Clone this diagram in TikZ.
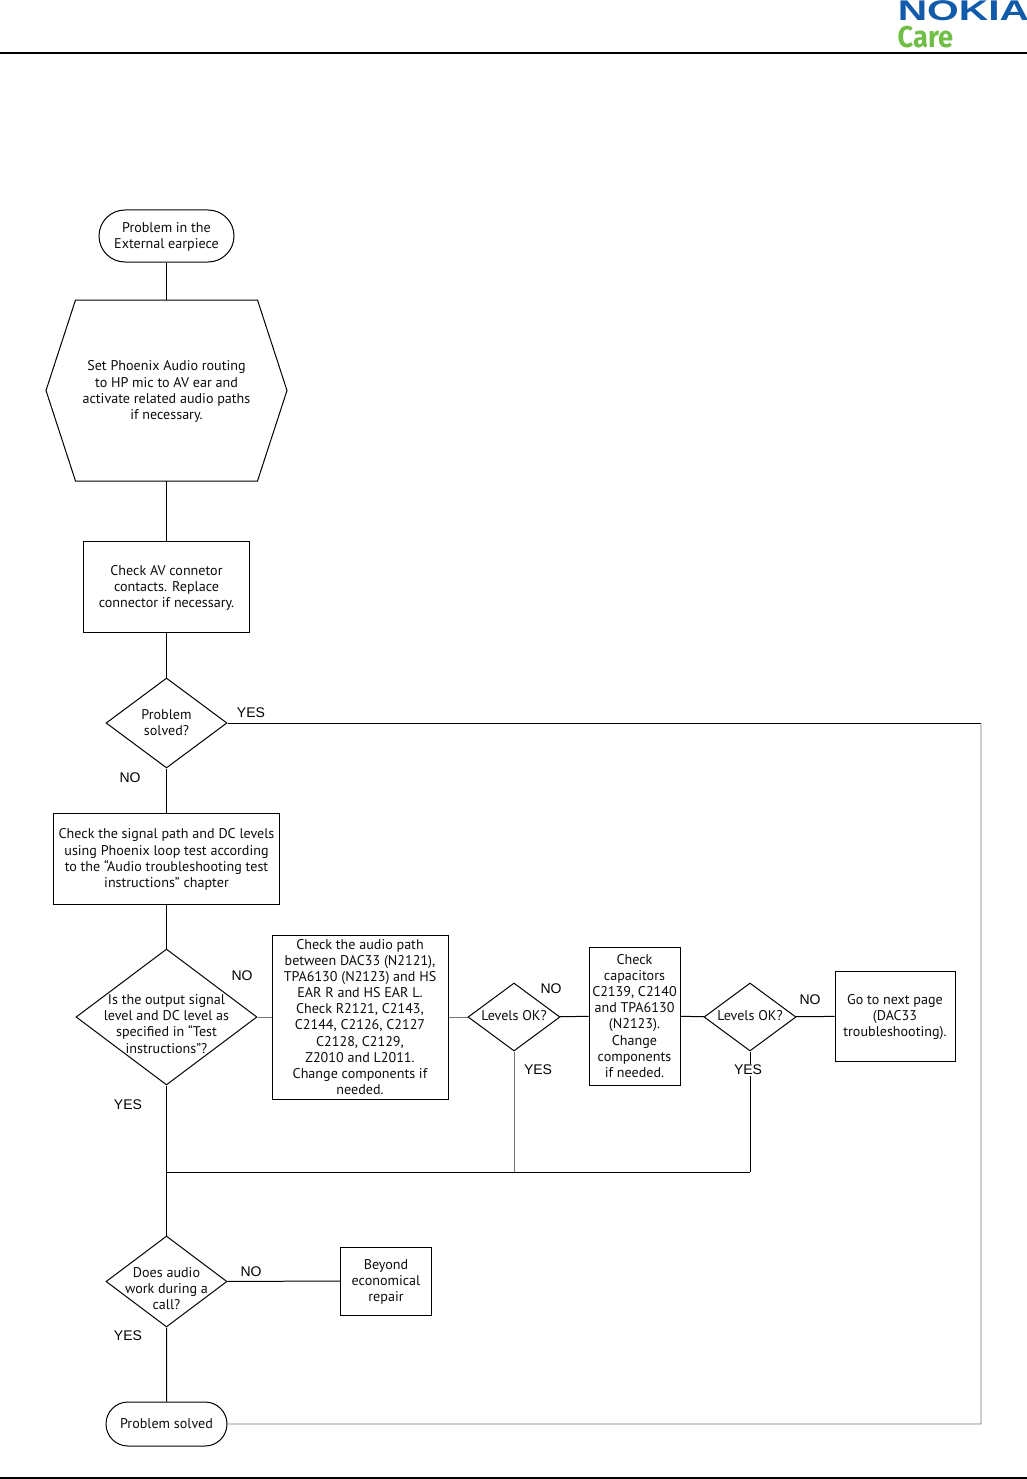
\documentclass[tikz,border=0pt]{standalone}
\usepackage{fontspec}
\setmainfont{PT Sans}
\newfontfamily\labelfont{Liberation Sans}
\newfontfamily\logofont{Liberation Sans}[BoldFont={Liberation Sans Bold}]
\newfontfamily\carefont{Fira Sans}[BoldFont={Fira Sans Bold}]
\usetikzlibrary{shapes.geometric,shapes.misc}
\definecolor{nokiablue}{RGB}{18,90,170}
\definecolor{caregreen}{RGB}{112,190,70}
\tikzset{
  x=1pt,y=-1pt,
  txt/.style={font=\fontsize{14.1}{16.1}\selectfont,align=center,text=black!95,inner sep=0pt},
  boxn/.style={draw,line width=1pt,inner sep=0pt,txt},
  pill/.style={draw,line width=1pt,rounded rectangle,inner sep=0pt,txt},
  dia/.style={draw,line width=1pt,diamond,inner sep=0pt,shape aspect=1},
  yn/.style={font=\labelfont\fontsize{14}{16}\selectfont,inner sep=1pt},
  conn/.style={line width=1pt},
  thinconn/.style={line width=0.7pt,black!55},
}
\newcommand{\dnode}[7]{\node[dia,minimum width=#4,minimum height=#5,label={[txt,yshift=#7]center:{#6}}] (#1) at (#2,#3) {};}
\begin{document}
\begin{tikzpicture}
\useasboundingbox (0,0) rectangle (1027,1479);
% header / footer
\coordinate (hl) at (0,53); \coordinate (hr) at (1027,53);
\coordinate (fl) at (0,1478); \coordinate (fr) at (1027,1478);
\draw[line width=1.8pt] (hl) -- (hr);
\draw[line width=1.8pt] (fl) -- (fr);
\node[anchor=base west,inner sep=0pt,text=nokiablue,xscale=1.43,font=\logofont\bfseries\fontsize{28.5}{30}\selectfont] (nokia) at (897.5,20.5) {NOKIA};
\node[anchor=base west,inner sep=0pt,text=caregreen,xscale=0.91,font=\carefont\bfseries\fontsize{30}{30}\selectfont] (care) at (897.5,48) {Care};
% nodes
\node[pill,minimum width=135,minimum height=52,label={[txt,yshift=-1pt]center:{Problem in the\\External earpiece}}] (start) at (166.5,236) {};
\node[txt,minimum width=182,minimum height=181,outer sep=0pt,yshift=-1pt] (hextext) at (166.5,390.5) {Set Phoenix Audio routing\\to HP mic to AV ear and\\activate related audio paths\\if necessary.};
\node[minimum width=182,minimum height=181,outer sep=0pt,inner sep=0pt] (hex) at (166.5,390.5) {};
\coordinate (hexw) at (46,390.5); \coordinate (hexe) at (287,390.5);
\draw[line width=1pt] (hex.north west) -- (hex.north east) -- (hexe) -- (hex.south east) -- (hex.south west) -- (hexw) -- cycle;
\node[boxn,minimum width=166,minimum height=91,label={[txt,yshift=-1pt]center:{Check AV connetor\\contacts. Replace\\connector if necessary.}}] (b1) at (166.5,587) {};
\dnode{d1}{166.5}{723}{121}{90}{Problem\\solved?}{0pt}
\node[boxn,minimum width=226,minimum height=91,label={[txt,yshift=-1pt]center:{Check the signal path and DC levels\\using Phoenix loop test according\\to the “Audio troubleshooting test\\instructions” chapter}}] (b2) at (166.5,858.5) {};
\dnode{d2}{166.5}{1017}{181}{136}{Is the output signal\\level and DC level as\\specified in “Test\\instructions”?}{-7pt}
\node[boxn,minimum width=176,minimum height=164] (b3) at (360,1017) {Check the audio path\\between DAC33 (N2121),\\TPA6130 (N2123) and HS\\EAR R and HS EAR L.\\Check R2121, C2143,\\C2144, C2126, C2127\\C2128, C2129,\\Z2010 and L2011.\\Change components if\\needed.};
\dnode{d3}{514}{1017}{92}{68}{Levels OK?}{1pt}
\node[boxn,minimum width=91,minimum height=138] (b4) at (634.5,1016) {Check\\capacitors\\C2139, C2140\\and TPA6130\\(N2123).\\Change\\components\\if needed.};
\dnode{d4}{750}{1017}{92}{68}{Levels OK?}{1pt}
\node[boxn,minimum width=120,minimum height=90,label={[txt,yshift=-1pt]center:{Go to next page\\(DAC33\\troubleshooting).}}] (b5) at (895,1016) {};
\dnode{d5}{166.5}{1281.5}{121}{91}{Does audio\\work during a\\call?}{-7pt}
\node[boxn,minimum width=91,minimum height=68,label={[txt,yshift=-1pt]center:{Beyond\\economical\\repair}}] (b6) at (386,1281) {};
\node[pill,minimum width=121,minimum height=44] (finish) at (166.5,1424) {Problem solved};
% routing points
\coordinate (j1) at (d2|-0,1172);
\coordinate (j2) at (d3|-0,1172);
\coordinate (j3) at (d4|-0,1172);
\coordinate (r1) at (981,723);
\coordinate (r2) at (981,1424);
% connectors
\draw[conn] (start) -- (hex);
\draw[conn] (hex) -- (b1);
\draw[conn] (b1) -- (d1);
\draw[conn] (d1) -- (b2);
\draw[conn] (b2) -- (d2);
\draw[thinconn,line width=1pt] (d2) -- (b3);
\draw[thinconn,line width=1pt] (b3) -- (d3);
\draw[conn] (d3) -- (b4);
\draw[conn] (b4) -- (d4);
\draw[conn] (d4) -- (b5);
\draw[conn] (d2) -- (j1);
\draw[conn] (j1) -- (d5);
\draw[conn] (d5) -- (finish);
\draw[conn] (d5) -- (b6);
\draw[conn] (j1) -- (j3);
\draw[thinconn] (d3) -- (j2);
\draw[conn] (d4) -- (j3);
\draw[conn] (d1) -- (r1);
\draw[thinconn] (r1) -- (r2) -- (finish);
% answer labels
\node[yn] (l1) at (251,713) {YES};
\node[yn] (l2) at (130,778) {NO};
\node[yn] (l3) at (242,976) {NO};
\node[yn] (l4) at (128,1105) {YES};
\node[yn] (l5) at (551,989) {NO};
\node[yn] (l6) at (538,1070) {YES};
\node[yn] (l7) at (810,1000) {NO};
\node[yn,fill=white] (l8) at (748,1070) {YES};
\node[yn] (l9) at (251,1272) {NO};
\node[yn] (l10) at (128,1336) {YES};
\end{tikzpicture}
\end{document}
